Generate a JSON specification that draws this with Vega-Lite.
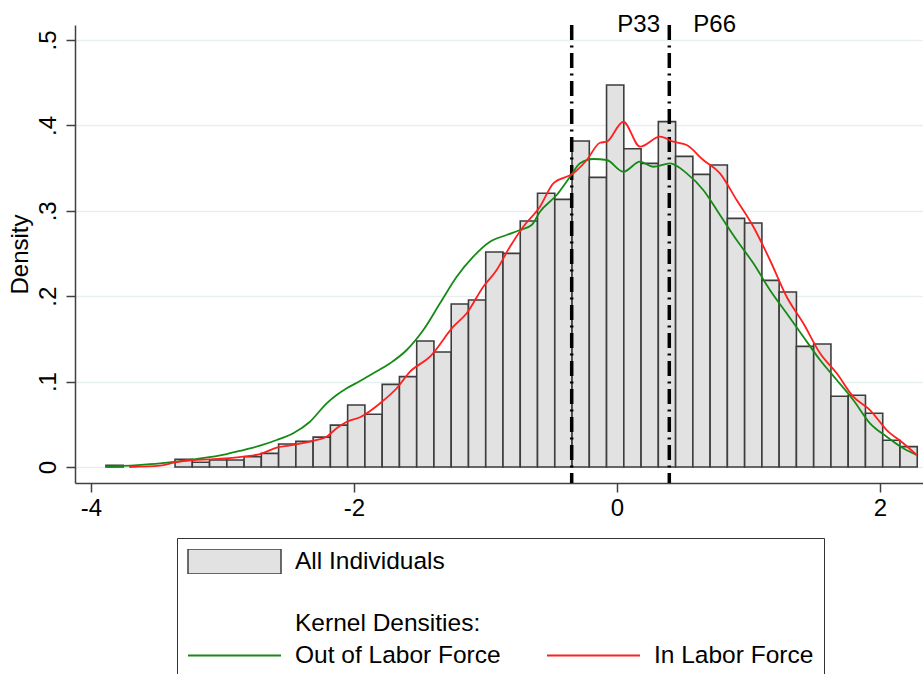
{
  "$schema": "https://vega.github.io/schema/vega-lite/v6.json",
  "width": 848,
  "height": 458,
  "autosize": {"type": "none"},
  "padding": {"left": 75, "top": 25, "right": 0, "bottom": 191},
  "background": "white",
  "config": {
    "font": "Liberation Sans",
    "view": {"stroke": null},
    "axis": {"labelColor": "#000", "titleColor": "#000"}
  },
  "datasets": {
    "bars": [
      {"x": -3.886, "xe": -3.7547, "density": 0.002, "series": "All Individuals"},
      {"x": -3.361, "xe": -3.2297, "density": 0.009, "series": "All Individuals"},
      {"x": -3.2297, "xe": -3.0984, "density": 0.0055, "series": "All Individuals"},
      {"x": -3.0984, "xe": -2.9672, "density": 0.0082, "series": "All Individuals"},
      {"x": -2.9672, "xe": -2.8359, "density": 0.0082, "series": "All Individuals"},
      {"x": -2.8359, "xe": -2.7047, "density": 0.012, "series": "All Individuals"},
      {"x": -2.7047, "xe": -2.5734, "density": 0.016, "series": "All Individuals"},
      {"x": -2.5734, "xe": -2.4421, "density": 0.027, "series": "All Individuals"},
      {"x": -2.4421, "xe": -2.3109, "density": 0.03, "series": "All Individuals"},
      {"x": -2.3109, "xe": -2.1796, "density": 0.035, "series": "All Individuals"},
      {"x": -2.1796, "xe": -2.0484, "density": 0.049, "series": "All Individuals"},
      {"x": -2.0484, "xe": -1.9171, "density": 0.0726, "series": "All Individuals"},
      {"x": -1.9171, "xe": -1.7858, "density": 0.0617, "series": "All Individuals"},
      {"x": -1.7858, "xe": -1.6546, "density": 0.0968, "series": "All Individuals"},
      {"x": -1.6546, "xe": -1.5233, "density": 0.1058, "series": "All Individuals"},
      {"x": -1.5233, "xe": -1.3921, "density": 0.1475, "series": "All Individuals"},
      {"x": -1.3921, "xe": -1.2608, "density": 0.1347, "series": "All Individuals"},
      {"x": -1.2608, "xe": -1.1295, "density": 0.1909, "series": "All Individuals"},
      {"x": -1.1295, "xe": -0.9983, "density": 0.1956, "series": "All Individuals"},
      {"x": -0.9983, "xe": -0.867, "density": 0.2518, "series": "All Individuals"},
      {"x": -0.867, "xe": -0.7358, "density": 0.2502, "series": "All Individuals"},
      {"x": -0.7358, "xe": -0.6045, "density": 0.288, "series": "All Individuals"},
      {"x": -0.6045, "xe": -0.4732, "density": 0.3205, "series": "All Individuals"},
      {"x": -0.4732, "xe": -0.342, "density": 0.3134, "series": "All Individuals"},
      {"x": -0.342, "xe": -0.2107, "density": 0.3817, "series": "All Individuals"},
      {"x": -0.2107, "xe": -0.0795, "density": 0.3392, "series": "All Individuals"},
      {"x": -0.0795, "xe": 0.0518, "density": 0.4473, "series": "All Individuals"},
      {"x": 0.0518, "xe": 0.1831, "density": 0.3727, "series": "All Individuals"},
      {"x": 0.1831, "xe": 0.3143, "density": 0.3556, "series": "All Individuals"},
      {"x": 0.3143, "xe": 0.4456, "density": 0.4044, "series": "All Individuals"},
      {"x": 0.4456, "xe": 0.5768, "density": 0.3638, "series": "All Individuals"},
      {"x": 0.5768, "xe": 0.7081, "density": 0.3427, "series": "All Individuals"},
      {"x": 0.7081, "xe": 0.8394, "density": 0.3536, "series": "All Individuals"},
      {"x": 0.8394, "xe": 0.9706, "density": 0.2912, "series": "All Individuals"},
      {"x": 0.9706, "xe": 1.1019, "density": 0.2857, "series": "All Individuals"},
      {"x": 1.1019, "xe": 1.2331, "density": 0.2186, "series": "All Individuals"},
      {"x": 1.2331, "xe": 1.3644, "density": 0.2049, "series": "All Individuals"},
      {"x": 1.3644, "xe": 1.4957, "density": 0.1413, "series": "All Individuals"},
      {"x": 1.4957, "xe": 1.6269, "density": 0.144, "series": "All Individuals"},
      {"x": 1.6269, "xe": 1.7582, "density": 0.0828, "series": "All Individuals"},
      {"x": 1.7582, "xe": 1.8894, "density": 0.084, "series": "All Individuals"},
      {"x": 1.8894, "xe": 2.0207, "density": 0.0629, "series": "All Individuals"},
      {"x": 2.0207, "xe": 2.152, "density": 0.0313, "series": "All Individuals"},
      {"x": 2.152, "xe": 2.2832, "density": 0.0238, "series": "All Individuals"}
    ],
    "kde": [
      {"group": "Out of Labor Force", "x": -3.888, "density": 0.0004},
      {"group": "Out of Labor Force", "x": -3.475, "density": 0.0043},
      {"group": "Out of Labor Force", "x": -3.222, "density": 0.009},
      {"group": "Out of Labor Force", "x": -2.968, "density": 0.0152},
      {"group": "Out of Labor Force", "x": -2.842, "density": 0.0199},
      {"group": "Out of Labor Force", "x": -2.715, "density": 0.0249},
      {"group": "Out of Labor Force", "x": -2.588, "density": 0.0316},
      {"group": "Out of Labor Force", "x": -2.462, "density": 0.0395},
      {"group": "Out of Labor Force", "x": -2.335, "density": 0.053},
      {"group": "Out of Labor Force", "x": -2.208, "density": 0.0746},
      {"group": "Out of Labor Force", "x": -2.132, "density": 0.0843},
      {"group": "Out of Labor Force", "x": -2.055, "density": 0.0922},
      {"group": "Out of Labor Force", "x": -1.954, "density": 0.1007},
      {"group": "Out of Labor Force", "x": -1.853, "density": 0.1097},
      {"group": "Out of Labor Force", "x": -1.726, "density": 0.1214},
      {"group": "Out of Labor Force", "x": -1.599, "density": 0.137},
      {"group": "Out of Labor Force", "x": -1.473, "density": 0.1604},
      {"group": "Out of Labor Force", "x": -1.346, "density": 0.1917},
      {"group": "Out of Labor Force", "x": -1.219, "density": 0.2228},
      {"group": "Out of Labor Force", "x": -1.093, "density": 0.2463},
      {"group": "Out of Labor Force", "x": -0.966, "density": 0.2638},
      {"group": "Out of Labor Force", "x": -0.839, "density": 0.2717},
      {"group": "Out of Labor Force", "x": -0.738, "density": 0.2775},
      {"group": "Out of Labor Force", "x": -0.649, "density": 0.2834},
      {"group": "Out of Labor Force", "x": -0.586, "density": 0.2989},
      {"group": "Out of Labor Force", "x": -0.459, "density": 0.3185},
      {"group": "Out of Labor Force", "x": -0.357, "density": 0.3399},
      {"group": "Out of Labor Force", "x": -0.281, "density": 0.3556},
      {"group": "Out of Labor Force", "x": -0.18, "density": 0.3607},
      {"group": "Out of Labor Force", "x": -0.078, "density": 0.3595},
      {"group": "Out of Labor Force", "x": 0.048, "density": 0.3458},
      {"group": "Out of Labor Force", "x": 0.175, "density": 0.3575},
      {"group": "Out of Labor Force", "x": 0.276, "density": 0.3516},
      {"group": "Out of Labor Force", "x": 0.403, "density": 0.3556},
      {"group": "Out of Labor Force", "x": 0.53, "density": 0.3439},
      {"group": "Out of Labor Force", "x": 0.656, "density": 0.3244},
      {"group": "Out of Labor Force", "x": 0.783, "density": 0.2951},
      {"group": "Out of Labor Force", "x": 0.91, "density": 0.2658},
      {"group": "Out of Labor Force", "x": 1.037, "density": 0.2385},
      {"group": "Out of Labor Force", "x": 1.163, "density": 0.2073},
      {"group": "Out of Labor Force", "x": 1.29, "density": 0.18},
      {"group": "Out of Labor Force", "x": 1.417, "density": 0.1526},
      {"group": "Out of Labor Force", "x": 1.544, "density": 0.1253},
      {"group": "Out of Labor Force", "x": 1.671, "density": 0.1019},
      {"group": "Out of Labor Force", "x": 1.797, "density": 0.0785},
      {"group": "Out of Labor Force", "x": 1.924, "density": 0.0512},
      {"group": "Out of Labor Force", "x": 2.051, "density": 0.0355},
      {"group": "Out of Labor Force", "x": 2.177, "density": 0.0219},
      {"group": "Out of Labor Force", "x": 2.279, "density": 0.0141},
      {"group": "In Labor Force", "x": -3.709, "density": 0.0},
      {"group": "In Labor Force", "x": -3.475, "density": 0.0015},
      {"group": "In Labor Force", "x": -3.361, "density": 0.0055},
      {"group": "In Labor Force", "x": -3.222, "density": 0.0082},
      {"group": "In Labor Force", "x": -3.095, "density": 0.009},
      {"group": "In Labor Force", "x": -2.842, "density": 0.0121},
      {"group": "In Labor Force", "x": -2.715, "density": 0.0152},
      {"group": "In Labor Force", "x": -2.588, "density": 0.0226},
      {"group": "In Labor Force", "x": -2.462, "density": 0.0258},
      {"group": "In Labor Force", "x": -2.309, "density": 0.0308},
      {"group": "In Labor Force", "x": -2.208, "density": 0.0355},
      {"group": "In Labor Force", "x": -2.132, "density": 0.0453},
      {"group": "In Labor Force", "x": -2.055, "density": 0.053},
      {"group": "In Labor Force", "x": -1.954, "density": 0.0582},
      {"group": "In Labor Force", "x": -1.802, "density": 0.0746},
      {"group": "In Labor Force", "x": -1.675, "density": 0.0922},
      {"group": "In Labor Force", "x": -1.574, "density": 0.1116},
      {"group": "In Labor Force", "x": -1.422, "density": 0.1292},
      {"group": "In Labor Force", "x": -1.245, "density": 0.1643},
      {"group": "In Labor Force", "x": -1.143, "density": 0.18},
      {"group": "In Labor Force", "x": -1.017, "density": 0.2111},
      {"group": "In Labor Force", "x": -0.915, "density": 0.2307},
      {"group": "In Labor Force", "x": -0.814, "density": 0.258},
      {"group": "In Labor Force", "x": -0.713, "density": 0.2814},
      {"group": "In Labor Force", "x": -0.586, "density": 0.3048},
      {"group": "In Labor Force", "x": -0.484, "density": 0.3322},
      {"group": "In Labor Force", "x": -0.332, "density": 0.3439},
      {"group": "In Labor Force", "x": -0.23, "density": 0.3595},
      {"group": "In Labor Force", "x": -0.129, "density": 0.3797},
      {"group": "In Labor Force", "x": -0.078, "density": 0.3809},
      {"group": "In Labor Force", "x": 0.048, "density": 0.4043},
      {"group": "In Labor Force", "x": 0.175, "density": 0.3751},
      {"group": "In Labor Force", "x": 0.327, "density": 0.3868},
      {"group": "In Labor Force", "x": 0.428, "density": 0.3809},
      {"group": "In Labor Force", "x": 0.53, "density": 0.377},
      {"group": "In Labor Force", "x": 0.656, "density": 0.3595},
      {"group": "In Labor Force", "x": 0.783, "density": 0.3439},
      {"group": "In Labor Force", "x": 0.91, "density": 0.3126},
      {"group": "In Labor Force", "x": 1.037, "density": 0.2814},
      {"group": "In Labor Force", "x": 1.163, "density": 0.2424},
      {"group": "In Labor Force", "x": 1.29, "density": 0.1994},
      {"group": "In Labor Force", "x": 1.417, "density": 0.1683},
      {"group": "In Labor Force", "x": 1.544, "density": 0.1331},
      {"group": "In Labor Force", "x": 1.671, "density": 0.1097},
      {"group": "In Labor Force", "x": 1.797, "density": 0.0823},
      {"group": "In Labor Force", "x": 1.924, "density": 0.0667},
      {"group": "In Labor Force", "x": 2.051, "density": 0.0433},
      {"group": "In Labor Force", "x": 2.177, "density": 0.0278},
      {"group": "In Labor Force", "x": 2.279, "density": 0.0141}
    ],
    "pct": [
      {"p": "P33", "x": -0.3445},
      {"p": "P66", "x": 0.3977}
    ],
    "labels": [
      {"label": "P33", "x": 0.165, "density": 0.509},
      {"label": "P66", "x": 0.743, "density": 0.509}
    ]
  },
  "encoding": {
    "x": {
      "field": "x",
      "type": "quantitative",
      "scale": {"domain": [-4.1217, 2.327], "nice": false, "zero": false},
      "axis": {
        "title": null,
        "values": [-4, -2, 0, 2],
        "labelExpr": "'' + datum.value",
        "labelFontSize": 24,
        "labelPadding": 4,
        "labelFlush": false,
        "tickSize": 9,
        "tickWidth": 1.5,
        "tickColor": "#404040",
        "domainColor": "#404040",
        "domainWidth": 1.5,
        "grid": false
      }
    }
  },
  "layer": [
    {
      "data": {"name": "bars"},
      "mark": {"type": "rect", "strokeWidth": 1.6},
      "encoding": {
        "x2": {"field": "xe"},
        "y": {
          "field": "density",
          "type": "quantitative",
          "scale": {"domain": [-0.01874, 0.5176], "nice": false, "zero": false},
          "axis": {
            "title": "Density",
            "titleFontSize": 24,
            "titleFontWeight": "normal",
            "titlePadding": 4,
            "values": [0, 0.1, 0.2, 0.3, 0.4, 0.5],
            "labelExpr": "datum.value == 0 ? '0' : replace(format(datum.value, '.1f'), '0.', '.')",
            "labelAngle": 270,
            "labelFontSize": 24,
            "labelPadding": 6,
            "tickSize": 9,
            "tickWidth": 1.5,
            "tickColor": "#404040",
            "domainColor": "#404040",
            "domainWidth": 1.5,
            "grid": true,
            "gridColor": "#e7eff1",
            "gridWidth": 1.5
          }
        },
        "y2": {"datum": 0},
        "fill": {
          "field": "series",
          "type": "nominal",
          "scale": {"domain": ["All Individuals", "Kernel Densities:"], "range": ["#e2e2e2", "rgba(0,0,0,0)"]},
          "legend": {
            "orient": "none", "legendX": 112, "legendY": 524, "title": null, "padding": 0,
            "symbolType": "M-1,-0.27H1V0.27H-1Z", "symbolSize": 8649, "symbolStrokeWidth": 1.5,
            "clipHeight": 25, "rowPadding": 36, "labelOffset": 13, "labelFontSize": 24.5, "labelLimit": 400, "labelColor": "#000"
          }
        },
        "stroke": {
          "field": "series",
          "type": "nominal",
          "scale": {"domain": ["All Individuals", "Kernel Densities:"], "range": ["#3d3d3d", "rgba(0,0,0,0)"]},
          "legend": {
            "orient": "none", "legendX": 112, "legendY": 524, "title": null, "padding": 0,
            "symbolType": "M-1,-0.27H1V0.27H-1Z", "symbolSize": 8649, "symbolStrokeWidth": 1.5,
            "clipHeight": 25, "rowPadding": 36, "labelOffset": 13, "labelFontSize": 24.5, "labelLimit": 400, "labelColor": "#000"
          }
        }
      }
    },
    {
      "data": {"name": "pct"},
      "mark": {"type": "rule", "strokeDash": [15, 5.5, 2, 5.5], "strokeWidth": 3.5, "color": "#000"},
      "encoding": {}
    },
    {
      "data": {"name": "kde"},
      "mark": {"type": "line", "interpolate": "monotone", "strokeWidth": 1.8},
      "encoding": {
        "y": {"field": "density", "type": "quantitative"},
        "color": {
          "field": "group",
          "type": "nominal",
          "scale": {"domain": ["Out of Labor Force", "In Labor Force"], "range": ["#168a16", "#ff1f1f"]},
          "legend": {
            "orient": "none", "legendX": 102, "legendY": 513,
            "title": "\u00a0", "titleFontSize": 80, "titlePadding": 15,
            "padding": 10, "strokeColor": "#333",
            "symbolType": "stroke", "symbolSize": 8649, "symbolStrokeWidth": 2,
            "clipHeight": 25, "columns": 2, "columnPadding": 45,
            "labelOffset": 13, "labelFontSize": 24.5, "labelLimit": 400, "labelColor": "#000"
          }
        }
      }
    },
    {
      "data": {"name": "labels"},
      "mark": {"type": "text", "fontSize": 24, "align": "center", "baseline": "alphabetic", "color": "#000"},
      "encoding": {
        "y": {"field": "density", "type": "quantitative"},
        "text": {"field": "label"}
      }
    }
  ]
}
